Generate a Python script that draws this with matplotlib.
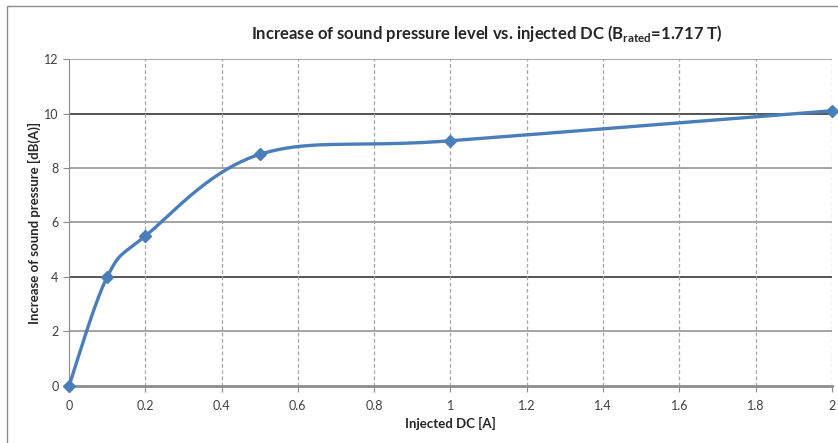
import numpy as np
import matplotlib.pyplot as plt
from matplotlib import font_manager
from matplotlib.patches import Rectangle

dc = [0, 0.1, 0.2, 0.5, 1.0, 2.0]
spl = [0, 4.0, 5.5, 8.5, 9.0, 10.1]
x_ticks = [0, 0.2, 0.4, 0.6, 0.8, 1.0, 1.2, 1.4, 1.6, 1.8, 2.0]
x_labels = ['0', '0.2', '0.4', '0.6', '0.8', '1', '1.2', '1.4', '1.6', '1.8', '2']
y_ticks = [0, 2, 4, 6, 8, 10, 12]
dark_lines = [4, 10]


def smooth(x, y, n=40):
    # Excel-like smoothed line: cubic bezier with catmull-rom control points
    p = np.column_stack([x, y]).astype(float)
    pts = []
    for i in range(len(p) - 1):
        p0 = p[i - 1] if i > 0 else p[i]
        p1 = p[i]
        p2 = p[i + 1]
        p3 = p[i + 2] if i + 2 < len(p) else p[i + 1]
        c1 = p1 + (p2 - p0) / 6
        c2 = p2 - (p3 - p1) / 6
        t = np.linspace(0, 1, n)[:, None]
        seg = ((1 - t) ** 3) * p1 + 3 * ((1 - t) ** 2) * t * c1 + 3 * (1 - t) * t ** 2 * c2 + t ** 3 * p2
        pts.append(seg if i == 0 else seg[1:])
    s = np.vstack(pts)
    return s[:, 0], s[:, 1]


names = {f.name for f in font_manager.fontManager.ttflist}
title_font = 'Liberation Sans Narrow' if 'Liberation Sans Narrow' in names else 'Lato'
title_size = 14 if title_font == 'Liberation Sans Narrow' else 12

plt.rcParams['font.family'] = ['Lato', 'DejaVu Sans']
plt.rcParams['mathtext.fontset'] = 'custom'
plt.rcParams['mathtext.bf'] = title_font + ':bold'
plt.rcParams['mathtext.rm'] = title_font

fig = plt.figure(figsize=(8.38, 4.43), dpi=100)
ax = fig.add_axes([0.0823, 0.1287, 0.9105, 0.7381])

# chart area frame (left and top edges visible)
fig.patches.append(Rectangle((7 / 838, -0.1), 1.2, 1 - 6 / 443 + 0.1, transform=fig.transFigure,
                             fill=False, edgecolor='#8c8c8c', linewidth=1.0))

for yv in y_ticks[1:]:
    col = '#262626' if yv in dark_lines else '#8c8c8c'
    ax.axhline(yv, color=col, linewidth=1.1, zorder=1)
for xv in x_ticks[1:]:
    ax.axvline(xv, color='#a6a6a6', linewidth=0.9, linestyle=(0, (3, 2)), zorder=1)

sx, sy = smooth(dc, spl)
ax.plot(sx, sy, color='#4a7ebb', linewidth=2.4, zorder=3, clip_on=False)
ax.plot(dc, spl, linestyle='none', marker='D', markersize=6, color='#4a7ebb', zorder=4, clip_on=False)

ax.set_xlim(0, 2)
ax.set_ylim(0, 12)
ax.set_xticks(x_ticks)
ax.set_xticklabels(x_labels)
ax.set_yticks(y_ticks)
ax.tick_params(axis='both', colors='#8c8c8c', labelcolor='#404040', labelsize=9, length=4, direction='out')
ax.tick_params(axis='x', pad=6)

for side in ['top', 'right']:
    ax.spines[side].set_visible(False)
ax.spines['left'].set_color('#8c8c8c')
ax.spines['bottom'].set_color('#8c8c8c')
ax.spines['bottom'].set_linewidth(2.0)

ax.set_xlabel('Injected DC [A]', fontsize=9.5, fontweight='bold', color='#262626', labelpad=4)
ax.set_ylabel('Increase of sound pressure [dB(A)]', fontsize=9.5, fontweight='bold', color='#262626', labelpad=2)

fig.text(0.5 * (253 + 720) / 838, 1 - 33 / 443,
         r'Increase of sound pressure level vs. injected DC (B$_{\mathbf{rated}}$=1.717 T)',
         ha='center', va='center', fontsize=title_size, fontweight='bold', color='#262626',
         family=[title_font, 'DejaVu Sans'])

fig.savefig('out.png', dpi=100)
